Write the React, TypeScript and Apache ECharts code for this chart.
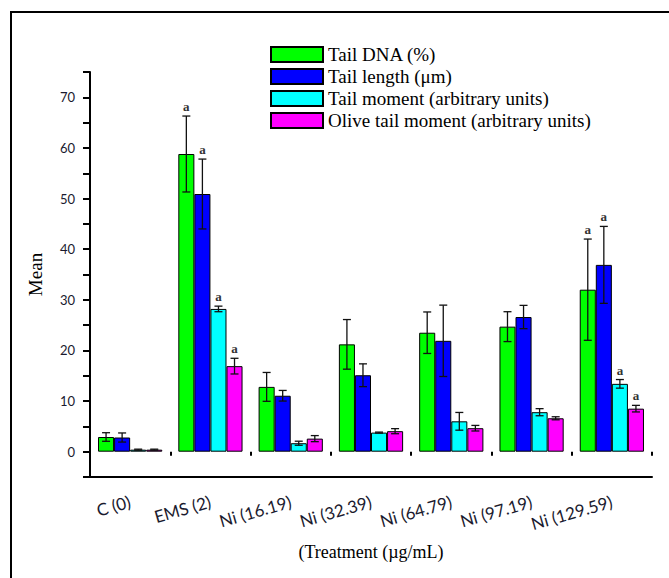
import React, { useEffect, useRef } from "react";
import * as echarts from "echarts";

const categories = ["C (0)", "EMS (2)", "Ni (16.19)", "Ni (32.39)", "Ni (64.79)", "Ni (97.19)", "Ni (129.59)"];
const seriesNames = ["Tail DNA (%)", "Tail length (μm)", "Tail moment (arbitrary units)", "Olive tail moment (arbitrary units)"];
const colors = ["#00FF00", "#0000FF", "#00FFFF", "#FF00FF"];

const tailDNA = [2.9, 58.8, 12.8, 21.2, 23.5, 24.7, 32.0];
const tailDNAErr = [0.85, 7.5, 2.85, 4.9, 4.1, 2.95, 10.0];
const tailLength = [2.8, 50.9, 11.05, 15.1, 21.9, 26.6, 36.9];
const tailLengthErr = [0.9, 6.9, 1.05, 2.25, 7.05, 2.3, 7.6];
const tailMoment = [0.4, 28.2, 1.67, 3.77, 6.0, 7.8, 13.4];
const tailMomentErr = [0.1, 0.55, 0.4, 0.1, 1.75, 0.7, 0.85];
const oliveMoment = [0.4, 16.9, 2.58, 4.05, 4.64, 6.6, 8.5];
const oliveMomentErr = [0.1, 1.55, 0.6, 0.5, 0.55, 0.3, 0.65];
// significance marks ("a") per category
const sigMarks = ["", "a", "", "", "", "", "a"];

const values = [tailDNA, tailLength, tailMoment, oliveMoment];
const errors = [tailDNAErr, tailLengthErr, tailMomentErr, oliveMomentErr];

export default function App() {
  const ref = useRef<HTMLDivElement>(null);
  useEffect(() => {
    if (!ref.current) return;
    const chart = echarts.init(ref.current, null, { renderer: "svg" });

    const barSeries = values.map((vals, si) => ({
      type: "bar",
      name: seriesNames[si],
      data: vals,
      barGap: "0%",
      barCategoryGap: "20%",
      itemStyle: { color: colors[si], borderColor: "#000", borderWidth: 1 },
      z: 2,
    }));

    const errSeries = values.map((vals, si) => ({
      type: "custom",
      name: "err" + si,
      data: vals.map((v, ci) => [ci, v, errors[si][ci], sigMarks[ci] ? 1 : 0]),
      encode: { x: 0, y: 1 },
      z: 5,
      silent: true,
      renderItem: (params: any, api: any) => {
        const ci = api.value(0);
        const v = api.value(1);
        const e = api.value(2);
        const flag = api.value(3);
        const bandW = api.size([1, 0])[0];
        const c = api.coord([ci, v]);
        const x = c[0] - 0.4 * bandW + (si + 0.5) * 0.2 * bandW;
        const yTop = api.coord([ci, v + e])[1];
        const yBot = api.coord([ci, v - e])[1];
        const cap = 4;
        const st = { stroke: "#111", lineWidth: 1.3 };
        const children: any[] = [
          { type: "line", shape: { x1: x, y1: yTop, x2: x, y2: yBot }, style: st },
          { type: "line", shape: { x1: x - cap, y1: yTop, x2: x + cap, y2: yTop }, style: st },
          { type: "line", shape: { x1: x - cap, y1: yBot, x2: x + cap, y2: yBot }, style: st },
        ];
        if (flag) {
          children.push({
            type: "text",
            style: {
              text: "a",
              x: x,
              y: yTop - 3,
              textAlign: "center",
              textVerticalAlign: "bottom",
              font: "bold 13px 'Liberation Serif'",
              fill: "#333",
            },
          });
        }
        return { type: "group", children };
      },
    }));

    chart.setOption({
      animation: false,
      backgroundColor: "#fff",
      graphic: [
        { type: "line", shape: { x1: 10, y1: 12, x2: 669, y2: 12 }, style: { stroke: "#000", lineWidth: 2 } },
        { type: "line", shape: { x1: 11, y1: 12, x2: 11, y2: 578 }, style: { stroke: "#000", lineWidth: 2 } },
      ],
      legend: {
        data: seriesNames,
        orient: "vertical",
        left: 265,
        top: 40,
        itemWidth: 52,
        itemHeight: 15,
        itemGap: 3,
        icon: "rect",
        textStyle: { fontFamily: "Liberation Serif", fontSize: 19, color: "#000" },
      },
      grid: { left: 90, right: 17, top: 72, bottom: 101 },
      xAxis: [
        {
          type: "category",
          data: categories,
          name: "(Treatment (µg/mL)",
          nameLocation: "middle",
          nameGap: 66,
          nameTextStyle: { fontFamily: "Liberation Serif", fontSize: 18, color: "#000" },
          axisLine: { onZero: false, lineStyle: { color: "#000", width: 2 } },
          axisTick: { alignWithLabel: true, length: 7, lineStyle: { color: "#000", width: 2 } },
          axisLabel: {
            rotate: 16,
            margin: 24,
            fontFamily: "Lato",
            fontSize: 17,
            color: "#1a1a2e",
          },
        },
        {
          type: "category",
          data: categories,
          position: "bottom",
          axisLine: { show: false },
          axisTick: { show: true, length: 4, lineStyle: { color: "#000", width: 2 } },
          axisLabel: { show: false },
        },
      ],
      yAxis: {
        type: "value",
        min: -5,
        max: 75,
        interval: 5,
        name: "Mean",
        nameLocation: "middle",
        nameGap: 45,
        nameRotate: 90,
        nameTextStyle: { fontFamily: "Liberation Serif", fontSize: 19, color: "#000" },
        splitLine: { show: false },
        axisLine: { show: true, lineStyle: { color: "#000", width: 2 } },
        axisTick: { show: true, length: 7, lineStyle: { color: "#000", width: 2 } },
        axisLabel: {
          fontFamily: "Lato",
          fontSize: 13,
          color: "#1a1a2e",
          margin: 15,
          formatter: (v: number) => (v >= 0 && Math.round(v) % 10 === 0 ? String(v) : ""),
        },
      },
      series: [...barSeries, ...errSeries],
    });
    return () => chart.dispose();
  }, []);
  return (
    <div
      ref={ref}
      style={{ position: "absolute", left: 0, top: 0, width: 669, height: 578 }}
    />
  );
}
